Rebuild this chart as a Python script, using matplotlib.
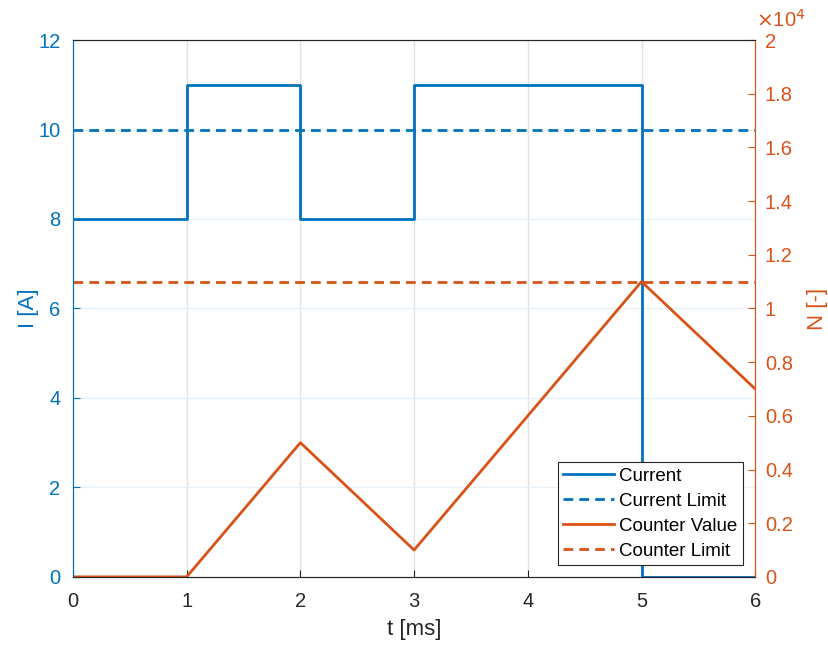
import numpy as np
import matplotlib.pyplot as plt
from matplotlib.ticker import FuncFormatter

plt.rcParams['font.family'] = ['Liberation Sans', 'DejaVu Sans']

# dati
t = [0, 1, 2, 3, 4, 5, 6]
corrente = [8, 11, 8, 11, 11, 0, 0]
limite_corrente = 10
t_cont = [0, 1, 2, 3, 5, 6]
contatore = [0, 0, 5000, 1000, 11000, 7000]
limite_contatore = 11000

blu = '#0072BD'
arancio = '#D95319'
scuro = '#262626'

fig = plt.figure(figsize=(8.29, 6.46), dpi=100)
ax = fig.add_axes([0.088, 0.107, 0.823, 0.831])
ax2 = ax.twinx()

l1, = ax.plot(t, corrente, drawstyle='steps-post', color=blu, lw=2, label='Current')
l2, = ax.plot([0, 6], [limite_corrente, limite_corrente], '--', color=blu, lw=2,
              dashes=(3.5, 2.2), label='Current Limit')
l3, = ax2.plot(t_cont, contatore, color=arancio, lw=2, label='Counter Value')
l4, = ax2.plot([0, 6], [limite_contatore, limite_contatore], '--', color=arancio, lw=2,
               dashes=(3.5, 2.2), label='Counter Limit')

ax.set_xlim(0, 6)
ax.set_ylim(0, 12)
ax2.set_ylim(0, 20000)
ax.set_xticks(range(7))
ax.set_yticks(range(0, 13, 2))
ax2.set_yticks(np.arange(0, 20001, 2000))
ax2.yaxis.set_major_formatter(FuncFormatter(lambda v, p: '%g' % round(v / 1e4, 1)))

# griglia stile matlab
for x in range(1, 6):
    ax.axvline(x, color='#e3e3e3', lw=1, zorder=0)
for y in range(2, 12, 2):
    ax.axhline(y, color='#e6f0f8', lw=1, zorder=0)

ax.tick_params(axis='x', direction='in', colors=scuro, labelsize=14.5, length=5, pad=11, top=False)
ax.tick_params(axis='y', direction='in', colors=blu, labelsize=14.5, length=5, pad=9)
ax2.tick_params(axis='y', direction='in', colors=arancio, labelsize=14.5, length=5, pad=7)

for a in (ax, ax2):
    a.spines['top'].set_color(scuro)
    a.spines['bottom'].set_color(scuro)
    a.spines['left'].set_color(blu)
    a.spines['right'].set_color(arancio)
    for s in a.spines.values():
        s.set_linewidth(0.8)

ax.set_xlabel('t [ms]', fontsize=16, color=scuro, labelpad=6)
ax.set_ylabel('I [A]', fontsize=16, color=blu)
ax2.set_ylabel('N [-]', fontsize=16, color=arancio, labelpad=10)
ax.yaxis.set_label_coords(-0.05, 0.5)

fig.text(0.912, 0.952, r'$\times$10$^4$', color=arancio, fontsize=14.5, ha='left', va='bottom')

leg = ax2.legend(handles=[l1, l2, l3, l4], loc='lower right', fontsize=13.5,
                 frameon=True, fancybox=False, framealpha=1, edgecolor=scuro,
                 bbox_to_anchor=(0.9825, 0.0215),
                 borderaxespad=0, handlelength=2.7, handletextpad=0.3,
                 labelspacing=0.42, borderpad=0.3)
leg.get_frame().set_linewidth(0.8)

plt.savefig('out.png', dpi=100)
